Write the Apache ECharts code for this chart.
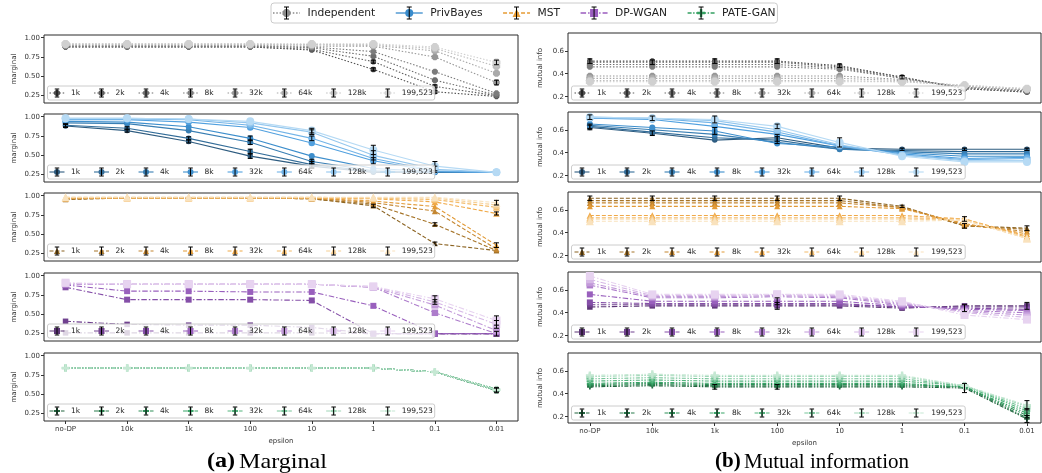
<!DOCTYPE html>
<html>
<head>
<meta charset="utf-8">
<script src="https://cdn.jsdelivr.net/npm/echarts@6/dist/echarts.min.js"></script>
<style>html,body{margin:0;padding:0;background:#fff}#c{width:1042px;height:473px}</style>
</head>
<body>
<div id="c"></div>
<script>
// ---------- DATA ----------
const CATEGORIES = ['no-DP', '10k', '1k', '100', '10', '1', '0.1', '0.01'];
const SIZES = ['1k', '2k', '4k', '8k', '32k', '64k', '128k', '199,523'];
const METHODS = ['Independent', 'PrivBayes', 'MST', 'DP-WGAN', 'PATE-GAN'];
const MARGINAL_TICKS = [0.25, 0.5, 0.75, 1.0];
const MI_TICKS = [0.2, 0.4, 0.6];

// rows: dataset sizes (1k ... 199,523), columns: epsilon categories
const INDEP_MARGINAL = [
  [0.88, 0.88, 0.88, 0.88, 0.84, 0.59, 0.30, 0.24],
  [0.88, 0.88, 0.88, 0.88, 0.85, 0.69, 0.37, 0.25],
  [0.89, 0.89, 0.89, 0.89, 0.87, 0.76, 0.45, 0.26],
  [0.89, 0.89, 0.89, 0.89, 0.88, 0.82, 0.56, 0.28],
  [0.90, 0.90, 0.90, 0.90, 0.89, 0.89, 0.75, 0.42],
  [0.91, 0.91, 0.91, 0.91, 0.91, 0.90, 0.83, 0.54],
  [0.92, 0.92, 0.92, 0.92, 0.91, 0.91, 0.86, 0.63],
  [0.92, 0.92, 0.92, 0.92, 0.92, 0.92, 0.88, 0.68]
];
const INDEP_MI = [
  [0.51, 0.51, 0.51, 0.51, 0.47, 0.37, 0.27, 0.24],
  [0.50, 0.50, 0.50, 0.50, 0.46, 0.37, 0.27, 0.24],
  [0.48, 0.48, 0.48, 0.48, 0.45, 0.36, 0.28, 0.25],
  [0.46, 0.46, 0.46, 0.46, 0.44, 0.36, 0.28, 0.25],
  [0.38, 0.38, 0.38, 0.38, 0.38, 0.35, 0.29, 0.26],
  [0.36, 0.36, 0.36, 0.36, 0.36, 0.34, 0.29, 0.26],
  [0.34, 0.34, 0.34, 0.34, 0.34, 0.33, 0.30, 0.27],
  [0.33, 0.33, 0.33, 0.33, 0.33, 0.33, 0.30, 0.27]
];
const PRIVBAYES_MARGINAL = [
  [0.88, 0.82, 0.68, 0.49, 0.36, 0.28, 0.28, 0.28],
  [0.89, 0.85, 0.72, 0.55, 0.38, 0.29, 0.28, 0.28],
  [0.92, 0.91, 0.82, 0.67, 0.42, 0.30, 0.28, 0.28],
  [0.94, 0.93, 0.87, 0.72, 0.49, 0.33, 0.29, 0.28],
  [0.96, 0.96, 0.93, 0.86, 0.66, 0.43, 0.29, 0.28],
  [0.97, 0.97, 0.96, 0.89, 0.72, 0.46, 0.30, 0.28],
  [0.98, 0.98, 0.97, 0.92, 0.80, 0.50, 0.32, 0.28],
  [0.98, 0.98, 0.97, 0.94, 0.82, 0.57, 0.36, 0.28]
];
const PRIVBAYES_MI = [
  [0.62, 0.57, 0.51, 0.53, 0.44, 0.43, 0.43, 0.43],
  [0.63, 0.58, 0.53, 0.51, 0.43, 0.42, 0.41, 0.41],
  [0.64, 0.60, 0.56, 0.49, 0.43, 0.41, 0.39, 0.39],
  [0.65, 0.62, 0.59, 0.48, 0.45, 0.40, 0.37, 0.37],
  [0.70, 0.69, 0.63, 0.56, 0.46, 0.39, 0.35, 0.36],
  [0.70, 0.70, 0.66, 0.58, 0.46, 0.38, 0.34, 0.35],
  [0.71, 0.70, 0.68, 0.60, 0.47, 0.38, 0.33, 0.33],
  [0.71, 0.70, 0.69, 0.63, 0.49, 0.37, 0.32, 0.32]
];
const MST_MARGINAL = [
  [0.95, 0.97, 0.97, 0.97, 0.96, 0.87, 0.38, 0.29],
  [0.96, 0.97, 0.97, 0.97, 0.96, 0.89, 0.63, 0.29],
  [0.96, 0.97, 0.97, 0.97, 0.97, 0.91, 0.80, 0.31],
  [0.97, 0.97, 0.97, 0.97, 0.97, 0.93, 0.86, 0.36],
  [0.97, 0.97, 0.97, 0.97, 0.97, 0.96, 0.92, 0.77],
  [0.97, 0.97, 0.97, 0.97, 0.97, 0.97, 0.95, 0.85],
  [0.98, 0.98, 0.98, 0.98, 0.98, 0.97, 0.97, 0.88],
  [0.98, 0.98, 0.98, 0.98, 0.98, 0.98, 0.98, 0.91]
];
const MST_MI = [
  [0.70, 0.70, 0.70, 0.70, 0.70, 0.63, 0.46, 0.44],
  [0.68, 0.68, 0.68, 0.68, 0.68, 0.62, 0.46, 0.43],
  [0.66, 0.66, 0.66, 0.66, 0.66, 0.62, 0.47, 0.41],
  [0.63, 0.63, 0.63, 0.63, 0.63, 0.61, 0.48, 0.39],
  [0.55, 0.55, 0.55, 0.55, 0.55, 0.55, 0.52, 0.37],
  [0.53, 0.53, 0.53, 0.53, 0.53, 0.53, 0.52, 0.36],
  [0.52, 0.52, 0.52, 0.52, 0.52, 0.52, 0.51, 0.35],
  [0.50, 0.50, 0.50, 0.50, 0.50, 0.50, 0.51, 0.35]
];
const DPWGAN_MARGINAL = [
  [0.26, 0.26, 0.26, 0.26, 0.26, 0.25, 0.25, 0.25],
  [0.41, 0.37, 0.36, 0.36, 0.33, 0.25, 0.25, 0.25],
  [0.85, 0.69, 0.69, 0.69, 0.68, 0.25, 0.25, 0.25],
  [0.88, 0.80, 0.80, 0.79, 0.79, 0.61, 0.25, 0.25],
  [0.89, 0.89, 0.89, 0.89, 0.89, 0.85, 0.52, 0.25],
  [0.90, 0.89, 0.89, 0.89, 0.89, 0.85, 0.62, 0.29],
  [0.90, 0.89, 0.89, 0.89, 0.89, 0.86, 0.66, 0.37],
  [0.91, 0.89, 0.89, 0.89, 0.89, 0.86, 0.70, 0.42]
];
const DPWGAN_MI = [
  [0.45, 0.46, 0.46, 0.46, 0.46, 0.44, 0.46, 0.46],
  [0.47, 0.47, 0.47, 0.47, 0.47, 0.45, 0.45, 0.45],
  [0.49, 0.48, 0.48, 0.48, 0.48, 0.45, 0.44, 0.43],
  [0.56, 0.50, 0.50, 0.50, 0.50, 0.46, 0.43, 0.42],
  [0.64, 0.53, 0.53, 0.54, 0.53, 0.47, 0.42, 0.40],
  [0.66, 0.54, 0.54, 0.55, 0.54, 0.48, 0.41, 0.38],
  [0.69, 0.55, 0.55, 0.56, 0.55, 0.49, 0.40, 0.36],
  [0.72, 0.56, 0.56, 0.56, 0.56, 0.50, 0.38, 0.34]
];
const PATEGAN_MARGINAL = [
  [0.84, 0.84, 0.84, 0.84, 0.84, 0.84, 0.79, 0.55],
  [0.84, 0.84, 0.84, 0.84, 0.84, 0.84, 0.79, 0.56],
  [0.84, 0.84, 0.84, 0.84, 0.84, 0.84, 0.79, 0.55],
  [0.84, 0.84, 0.84, 0.84, 0.84, 0.84, 0.79, 0.57],
  [0.84, 0.84, 0.84, 0.84, 0.84, 0.84, 0.79, 0.56],
  [0.84, 0.84, 0.84, 0.84, 0.84, 0.84, 0.79, 0.55],
  [0.84, 0.84, 0.84, 0.84, 0.84, 0.84, 0.79, 0.56],
  [0.84, 0.84, 0.84, 0.84, 0.84, 0.84, 0.79, 0.56]
];
const PATEGAN_MI = [
  [0.46, 0.47, 0.46, 0.46, 0.46, 0.46, 0.45, 0.18],
  [0.47, 0.48, 0.47, 0.47, 0.47, 0.47, 0.46, 0.19],
  [0.48, 0.49, 0.48, 0.48, 0.48, 0.48, 0.46, 0.21],
  [0.49, 0.50, 0.49, 0.49, 0.49, 0.49, 0.46, 0.23],
  [0.51, 0.52, 0.51, 0.51, 0.51, 0.51, 0.47, 0.25],
  [0.53, 0.54, 0.53, 0.53, 0.53, 0.53, 0.47, 0.27],
  [0.55, 0.56, 0.55, 0.55, 0.55, 0.55, 0.47, 0.29],
  [0.56, 0.57, 0.56, 0.56, 0.56, 0.56, 0.47, 0.30]
];

// visible error bars: [size index, epsilon index, half-width]
const INDEP_MARGINAL_ERR = [[0,5,0.02],[1,5,0.02],[0,6,0.02],[1,6,0.02],[4,7,0.03],[7,7,0.03]];
const INDEP_MI_ERR = [[0,0,0.02],[1,1,0.02],[0,2,0.02],[0,3,0.02],[0,4,0.015],[0,5,0.015]];
const PRIVBAYES_MARGINAL_ERR = [[0,0,0.02],[1,0,0.02],[0,1,0.02],[1,1,0.02],[0,2,0.02],[1,2,0.02],[0,3,0.03],[1,3,0.03],[2,3,0.03],[3,3,0.03],[0,4,0.03],[1,4,0.04],[2,4,0.03],[5,4,0.03],[6,4,0.03],[7,4,0.03],[4,5,0.04],[6,5,0.06],[7,5,0.06],[6,6,0.04],[7,6,0.06]];
const PRIVBAYES_MI_ERR = [[0,0,0.02],[1,0,0.02],[7,0,0.02],[0,1,0.02],[6,1,0.02],[3,2,0.03],[7,2,0.03],[0,3,0.03],[1,3,0.03],[7,3,0.02],[7,4,0.04],[0,5,0.01],[0,6,0.01],[0,7,0.01]];
const MST_MARGINAL_ERR = [[0,5,0.02],[0,6,0.02],[1,6,0.02],[3,7,0.03],[4,7,0.02],[7,7,0.03]];
const MST_MI_ERR = [[0,0,0.02],[0,1,0.02],[0,2,0.02],[0,3,0.02],[0,4,0.02],[0,5,0.01],[0,6,0.02],[4,6,0.02],[0,7,0.02]];
const DPWGAN_MARGINAL_ERR = [[6,6,0.03],[7,6,0.04],[0,7,0.03],[6,7,0.05],[7,7,0.06]];
const DPWGAN_MI_ERR = [[0,3,0.03],[3,3,0.03],[2,6,0.03],[0,7,0.03]];
const PATEGAN_MARGINAL_ERR = [[0,7,0.03],[4,7,0.03]];
const PATEGAN_MI_ERR = [[0,2,0.02],[0,3,0.02],[0,6,0.04],[0,7,0.03],[3,7,0.04],[7,7,0.04]];

// ---------- STYLE ----------
const SHADES = [
  ['#4f4f4f','#5e5e5e','#6d6d6d','#7c7c7c','#969696','#aaaaaa','#bebebe','#d0d0d0'],
  ['#2e5c80','#336d99','#387eb3','#3d8ecc','#50a0df','#71b3e7','#94c7ee','#b6daf4'],
  ['#8a6220','#a67428','#c48630','#e29a36','#f0a947','#f3bc6c','#f6cf94','#f9e2bd'],
  ['#5c3575','#70418f','#854fa8','#9960bd','#ad7ccb','#c29ad9','#d6b8e6','#e7d3f0'],
  ['#22653e','#287a4b','#2f8f58','#37a366','#52b47c','#78c59a','#a0d6b7','#c5e8d3']
];
const BASE = ['#8a8a8a','#3a8ccc','#e69c35','#9a5cbf','#35a062'];
const DASH = [[1.5,1.8], null, [4,2], [5.5,2,1.5,2], [4,1.5,1.5,1.5,1.5,1.5]];
// unit-box polygons (0..10) for the markers
const OCTAGON = [[3,0],[7,0],[10,3],[10,7],[7,10],[3,10],[0,7],[0,3]];
const PLUS = [[3.5,0],[6.5,0],[6.5,3.5],[10,3.5],[10,6.5],[6.5,6.5],[6.5,10],[3.5,10],[3.5,6.5],[0,6.5],[0,3.5],[3.5,3.5]];
const TRI = [[5,0],[10,10],[0,10]];
const toPath = pts => 'path://M' + pts.map(p => p.join(',')).join('L') + 'Z';
const SYMBOL = [toPath(OCTAGON), 'circle', 'triangle', 'rect', toPath(PLUS)];
const SYMSIZE = [5.5, 5.5, 6, 6, 6.5, 7, 7.5, 8];
const FONT = 'DejaVu Sans';

const PANELS = [
  [INDEP_MARGINAL, INDEP_MARGINAL_ERR, INDEP_MI, INDEP_MI_ERR],
  [PRIVBAYES_MARGINAL, PRIVBAYES_MARGINAL_ERR, PRIVBAYES_MI, PRIVBAYES_MI_ERR],
  [MST_MARGINAL, MST_MARGINAL_ERR, MST_MI, MST_MI_ERR],
  [DPWGAN_MARGINAL, DPWGAN_MARGINAL_ERR, DPWGAN_MI, DPWGAN_MI_ERR],
  [PATEGAN_MARGINAL, PATEGAN_MARGINAL_ERR, PATEGAN_MI, PATEGAN_MI_ERR]
];

const COL = [
  {left: 44, width: 474, tops: [35, 114, 193, 273, 353], h: 68, xmax: 7.35, ymin: 0.155, ymax: 1.035, ticks: MARGINAL_TICKS, name: 'marginal', nameGap: 26,
   leg: {pad: 2, textGap: 6.5, gap: 13.9}},
  {left: 568, width: 473, tops: [33, 112, 192, 272, 353], h: 70, xmax: 7.225, ymin: 0.145, ymax: 0.755, ticks: MI_TICKS, name: 'mutual info', nameGap: 24,
   leg: {pad: 3, textGap: 7.5, gap: 13.4}}
];

// ---------- legend drawing helpers (graphic elements) ----------
const measureCtx = document.createElement('canvas').getContext('2d');
function textW(t, size) { measureCtx.font = size + 'px "' + FONT + '"'; return measureCtx.measureText(t).width; }
function markerEl(m, cx, cy, s, color) {
  const st = {fill: color};
  if (m === 1) return {type: 'circle', shape: {cx: cx, cy: cy, r: s / 2}, style: st};
  if (m === 3) return {type: 'rect', shape: {x: cx - s / 2, y: cy - s / 2, width: s, height: s}, style: st};
  const pts = (m === 0 ? OCTAGON : m === 2 ? TRI : PLUS).map(p => [cx - s / 2 + p[0] * s / 10, cy - s / 2 + p[1] * s / 10]);
  return {type: 'polygon', shape: {points: pts}, style: st};
}
function legendEls(x, y, labels, colors, methodOf, o) {
  let cur = x + o.pad;
  const yc = y + o.boxH / 2;
  const items = [];
  labels.forEach((lab, i) => {
    const cx = cur + o.itemW / 2;
    const m = methodOf(i);
    items.push({type: 'line', shape: {x1: cur, y1: yc, x2: cur + o.itemW, y2: yc},
      style: {stroke: colors[i], lineWidth: o.lineW, lineDash: DASH[m]}});
    items.push(markerEl(m, cx, yc, o.sym, colors[i]));
    const hh = o.iH / 2, cw = o.capW / 2, bs = {stroke: '#000', lineWidth: 1};
    items.push({type: 'line', shape: {x1: cx, y1: yc - hh, x2: cx, y2: yc + hh}, style: bs});
    items.push({type: 'line', shape: {x1: cx - cw, y1: yc - hh, x2: cx + cw, y2: yc - hh}, style: bs});
    items.push({type: 'line', shape: {x1: cx - cw, y1: yc + hh, x2: cx + cw, y2: yc + hh}, style: bs});
    items.push({type: 'text', x: cur + o.itemW + o.textGap, y: yc,
      style: {text: lab, fontSize: o.font, fontFamily: FONT, fill: '#222', verticalAlign: 'middle', align: 'left'}});
    cur += o.itemW + o.textGap + textW(lab, o.font) + (i < labels.length - 1 ? o.gap : 0);
  });
  const w = cur + o.pad - x;
  const box = {type: 'rect', shape: {x: x, y: y, width: w, height: o.boxH, r: o.r},
    style: {fill: o.fill, stroke: '#cccccc', lineWidth: 1}};
  return [box].concat(items).map((e, k) => Object.assign(e, {z: 100 + (k === 0 ? 0 : 1), silent: true}));
}

const grids = [], xAxes = [], yAxes = [], series = [];
let graphics = [];
let idx = 0;
for (let m = 0; m < 5; m++) {
  for (let c = 0; c < 2; c++) {
    const cfg = COL[c];
    const values = PANELS[m][c * 2];
    const errs = PANELS[m][c * 2 + 1];
    const top = cfg.tops[m];
    const bottomRow = m === 4;
    grids.push({left: cfg.left, top: top, width: cfg.width, height: cfg.h, show: true, borderColor: '#2b2b2b', borderWidth: 1, containLabel: false});
    xAxes.push({
      type: 'value', gridIndex: idx, min: -0.35, max: cfg.xmax,
      axisLine: {show: false, onZero: false}, splitLine: {show: false},
      axisTick: bottomRow ? {show: true, length: 3, lineStyle: {color: '#333'}, customValues: CATEGORIES.map((_, i) => i)} : {show: false},
      axisLabel: bottomRow ? {show: true, fontSize: 7, fontFamily: FONT, color: '#333', margin: 5,
        customValues: CATEGORIES.map((_, i) => i), formatter: v => CATEGORIES[Math.round(v)]} : {show: false},
      name: bottomRow ? 'epsilon' : '', nameLocation: 'middle', nameGap: 17,
      nameTextStyle: {fontSize: 7, fontFamily: FONT, color: '#333'}
    });
    yAxes.push({
      type: 'value', gridIndex: idx, min: cfg.ymin, max: cfg.ymax,
      axisLine: {show: false, onZero: false}, splitLine: {show: false},
      axisTick: {show: true, length: 3, lineStyle: {color: '#333'}, customValues: cfg.ticks},
      axisLabel: {fontSize: 7, fontFamily: FONT, color: '#333', margin: 4, customValues: cfg.ticks,
        formatter: v => (c === 0 ? v.toFixed(2) : v.toFixed(1))},
      name: cfg.name, nameLocation: 'middle', nameGap: cfg.nameGap, nameRotate: 90,
      nameTextStyle: {fontSize: 7, fontFamily: FONT, color: '#333'}
    });
    for (let s = 0; s < 8; s++) {
      series.push({
        type: 'line', name: SIZES[s], xAxisIndex: idx, yAxisIndex: idx,
        data: values[s].map((v, i) => [i, v]),
        symbol: SYMBOL[m], symbolSize: SYMSIZE[s],
        lineStyle: {color: SHADES[m][s], width: 1.1, type: DASH[m] || 'solid'},
        itemStyle: {color: SHADES[m][s]},
        z: 2 + s * 0.01, animation: false, silent: true
      });
    }
    series.push({
      type: 'custom', name: 'err' + idx, xAxisIndex: idx, yAxisIndex: idx,
      data: errs.map(e => [e[1], values[e[0]][e[1]] - e[2], values[e[0]][e[1]] + e[2]]),
      encode: {x: 0, y: [1, 2]}, z: 5, silent: true, animation: false,
      renderItem: (params, api) => {
        const x = api.value(0);
        const p1 = api.coord([x, api.value(2)]);
        const p2 = api.coord([x, api.value(1)]);
        const w = 2.5, st = {stroke: '#000', lineWidth: 1};
        return {type: 'group', children: [
          {type: 'line', shape: {x1: p1[0], y1: p1[1], x2: p2[0], y2: p2[1]}, style: st},
          {type: 'line', shape: {x1: p1[0] - w, y1: p1[1], x2: p1[0] + w, y2: p1[1]}, style: st},
          {type: 'line', shape: {x1: p2[0] - w, y1: p2[1], x2: p2[0] + w, y2: p2[1]}, style: st}
        ]};
      }
    });
    graphics = graphics.concat(legendEls(cfg.left + 3.5, top + cfg.h - 3 - 14, SIZES, SHADES[m], () => m,
      {pad: cfg.leg.pad, itemW: 15, textGap: cfg.leg.textGap, gap: cfg.leg.gap, boxH: 14, sym: 6, iH: 8, capW: 4.5,
       font: 7.5, lineW: 1.1, r: 2, fill: 'rgba(255,255,255,0.8)'}));
    idx++;
  }
}
// top legend of methods
graphics = graphics.concat(legendEls(271, 3, METHODS, BASE, i => i,
  {pad: 2, itemW: 27, textGap: 7.5, gap: 20.5, boxH: 20, sym: 8, iH: 12, capW: 5, font: 10.7, lineW: 1.3, r: 3, fill: '#ffffff'}));

// captions
graphics.push(
  {type: 'text', x: 267, y: 462, scaleX: 1.15, z: 100, style: {text: '{b|(a)} {n|Marginal}', align: 'center', verticalAlign: 'middle',
    rich: {b: {fontFamily: 'Liberation Serif', fontWeight: 'bold', fontSize: 21, fill: '#000'},
           n: {fontFamily: 'Liberation Serif', fontSize: 21, fill: '#000'}}}},
  {type: 'text', x: 812, y: 462, z: 100, style: {text: '{b|(b)} {n|Mutual information}', align: 'center', verticalAlign: 'middle',
    rich: {b: {fontFamily: 'Liberation Serif', fontWeight: 'bold', fontSize: 21, fill: '#000'},
           n: {fontFamily: 'Liberation Serif', fontSize: 21, fill: '#000'}}}}
);

const chart = echarts.init(document.getElementById('c'), null, {renderer: 'canvas'});
chart.setOption({
  animation: false,
  backgroundColor: '#ffffff',
  grid: grids, xAxis: xAxes, yAxis: yAxes, series: series,
  graphic: {elements: graphics}
});
</script>
</body>
</html>
